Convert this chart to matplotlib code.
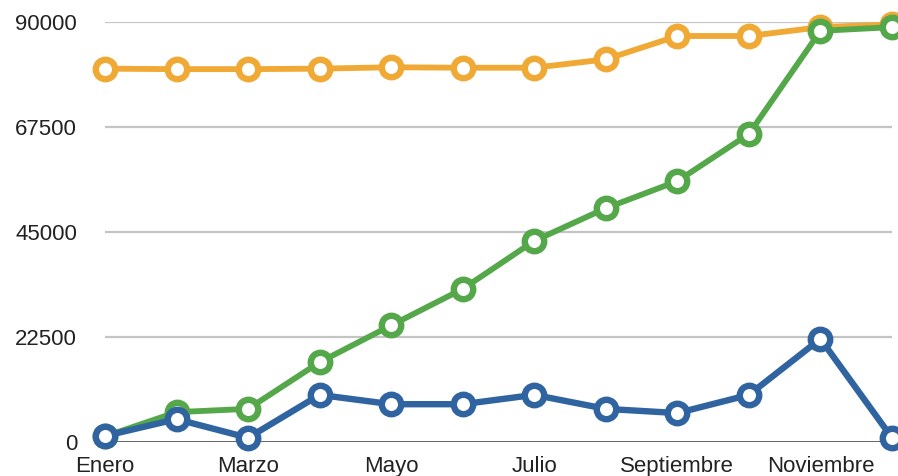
import matplotlib
matplotlib.use("Agg")
import matplotlib.pyplot as plt

months = ["Enero", "Febrero", "Marzo", "Abril", "Mayo", "Junio", "Julio",
          "Agosto", "Septiembre", "Octubre", "Noviembre", "Diciembre"]
orange = [80000, 79900, 79900, 80000, 80300, 80200, 80200, 82000, 87000, 87000, 88900, 89500]
green = [1200, 6400, 7100, 17100, 25000, 32800, 43100, 50100, 55900, 66000, 88100, 88900]
blue = [1300, 4900, 900, 10100, 8100, 8100, 10100, 7100, 6200, 10100, 22100, 900]
yticks = [0, 22500, 45000, 67500, 90000]
xtick_labels = ["Enero", "Marzo", "Mayo", "Julio", "Septiembre", "Noviembre"]

plt.rcParams['font.family'] = ['Liberation Sans', 'DejaVu Sans']

fig = plt.figure(figsize=(8.98, 4.76), dpi=100)
ax = fig.add_axes([105/898, (476-442)/476, (892-105)/898, (442-22)/476])

x = list(range(len(months)))
styles = [(orange, '#F0A935', 4.2), (green, '#55A84A', 4.2), (blue, '#2F64A0', 4.6)]
for i, (vals, col, lw) in enumerate(styles):
    ax.plot(x, vals, color=col, lw=lw, marker='o', ms=14, mew=4.6,
            mfc='white', mec=col, clip_on=False, zorder=3 + i,
            solid_joinstyle='round')

ax.set_xlim(0, 11)
ax.set_ylim(0, 90000)
ax.set_yticks(yticks)
ax.set_yticklabels([str(v) for v in yticks])
ax.set_xticks(x[::2])
ax.set_xticklabels(xtick_labels)

for v in yticks[1:]:
    ax.axhline(v, color='#c4c4c4', lw=1.6, zorder=1)
ax.axhline(0, color='#555555', lw=2.0, zorder=2)

for s in ax.spines.values():
    s.set_visible(False)
ax.tick_params(axis='both', length=0, labelsize=16, colors='#222222')
ax.tick_params(axis='y', pad=20)
ax.tick_params(axis='x', pad=10)

fig.savefig("out.png", dpi=100)
